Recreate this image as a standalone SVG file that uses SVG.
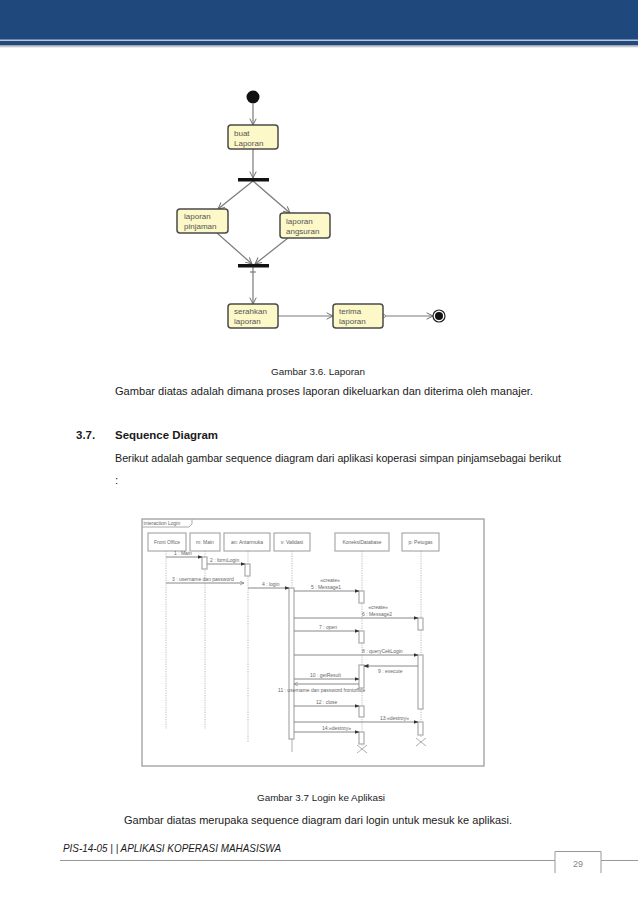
<svg xmlns="http://www.w3.org/2000/svg" width="638" height="903" viewBox="0 0 638 903">
<defs>
<style>
.body{font-family:"Liberation Sans",Arial,sans-serif;font-size:11.5px;fill:#1a1a1a}
.cap{font-family:"Liberation Sans",Arial,sans-serif;font-size:8.5px;fill:#222}
.act rect{fill:#fcf8c8;stroke:#4a4a4a;stroke-width:1.5}
.act text{font-family:"Liberation Sans",Arial,sans-serif;font-size:8px;fill:#555}
.aedge{stroke:#7a7a7a;stroke-width:1.2;fill:none}
.seq text{font-family:"Liberation Sans",Arial,sans-serif;font-size:5px;fill:#666}
.head rect{fill:#fff;stroke:#aaa;stroke-width:1.2}
.life{stroke:#aaa;stroke-width:0.8;stroke-dasharray:1.2 1.2;fill:none}
.actv{fill:#fff;stroke:#999;stroke-width:1}
.msg{stroke:#888;stroke-width:1;fill:none}
</style>
<marker id="open" viewBox="0 0 10 10" refX="9" refY="5" markerWidth="8" markerHeight="8" orient="auto" markerUnits="userSpaceOnUse">
<path d="M1,1 L9,5 L1,9" fill="none" stroke="#6a6a6a" stroke-width="1.2"/>
</marker>
<marker id="fill" viewBox="0 0 10 10" refX="9" refY="5" markerWidth="5" markerHeight="5" orient="auto" markerUnits="userSpaceOnUse">
<path d="M0,1 L10,5 L0,9 Z" fill="#333"/>
</marker>
<marker id="sopen" viewBox="0 0 10 10" refX="9" refY="5" markerWidth="5" markerHeight="5" orient="auto" markerUnits="userSpaceOnUse">
<path d="M1,1 L9,5 L1,9" fill="none" stroke="#777" stroke-width="1.2"/>
</marker>
<linearGradient id="shadow" x1="0" y1="0" x2="0" y2="1">
<stop offset="0" stop-color="#8c96a6"/>
<stop offset="1" stop-color="#ffffff"/>
</linearGradient>
</defs>
<rect width="638" height="903" fill="#fff"/>

<!-- header -->
<g id="header">
<rect x="0" y="0" width="638" height="40" fill="#1f497d"/>
<rect x="0" y="39.5" width="638" height="1.5" fill="#b3c6e3"/>
<rect x="0" y="41" width="638" height="4" fill="#27497a"/>
<rect x="0" y="45" width="638" height="3" fill="url(#shadow)"/>
</g>

<!-- activity diagram -->
<g id="activity-edges">
<line class="aedge" x1="253" y1="104" x2="253" y2="125" marker-end="url(#open)"/>
<line class="aedge" x1="253" y1="149" x2="253" y2="178" marker-end="url(#open)"/>
<line class="aedge" x1="253" y1="181" x2="218" y2="209" marker-end="url(#open)"/>
<line class="aedge" x1="253" y1="181" x2="290" y2="213" marker-end="url(#open)"/>
<line class="aedge" x1="217" y1="233" x2="252" y2="264" marker-end="url(#open)"/>
<line class="aedge" x1="288" y1="238" x2="255" y2="264" marker-end="url(#open)"/>
<line class="aedge" x1="253" y1="267" x2="253" y2="304" marker-end="url(#open)"/>
<line class="aedge" x1="250" y1="272" x2="256" y2="272"/>
<line class="aedge" x1="278" y1="316" x2="333" y2="316" marker-end="url(#open)"/>
<line class="aedge" x1="384" y1="316" x2="433" y2="316" marker-end="url(#open)"/>
<circle cx="384" cy="316" r="1.5" fill="#fff" stroke="#7a7a7a" stroke-width="0.8"/>
</g>
<g id="initial"><circle cx="253" cy="97" r="6.5" fill="#111"/></g>
<g id="buat-laporan" class="act"><rect x="228" y="125" width="50" height="24" rx="3"/><text x="234" y="136">buat</text><text x="234" y="146">Laporan</text></g>
<g id="fork"><rect x="238" y="178" width="31" height="3.5" fill="#111"/></g>
<g id="laporan-pinjaman" class="act"><rect x="177" y="209" width="51" height="24" rx="3"/><text x="184" y="219">laporan</text><text x="184" y="229">pinjaman</text></g>
<g id="laporan-angsuran" class="act"><rect x="280" y="213" width="50" height="25" rx="3"/><text x="286" y="224">laporan</text><text x="286" y="234">angsuran</text></g>
<g id="join"><rect x="238" y="264" width="31" height="3.5" fill="#111"/></g>
<g id="serahkan-laporan" class="act"><rect x="228" y="304" width="50" height="24" rx="3"/><text x="234" y="314">serahkan</text><text x="234" y="324">laporan</text></g>
<g id="terima-laporan" class="act"><rect x="333" y="304" width="50" height="24" rx="3"/><text x="339" y="314">terima</text><text x="339" y="324">laporan</text></g>
<g id="final"><circle cx="439" cy="316" r="6" fill="#fff" stroke="#222" stroke-width="1.2"/><circle cx="439" cy="316" r="4" fill="#111"/></g>

<!-- text block 1 -->
<text class="cap" x="271" y="375" textLength="94" lengthAdjust="spacingAndGlyphs">Gambar 3.6. Laporan</text>
<text class="body" x="115" y="395" textLength="418" lengthAdjust="spacingAndGlyphs">Gambar diatas adalah dimana proses laporan dikeluarkan dan diterima oleh manajer.</text>
<text class="body" x="76" y="439" font-weight="bold" font-size="12">3.7.</text>
<text class="body" x="115" y="439" font-weight="bold" font-size="12" textLength="103" lengthAdjust="spacingAndGlyphs">Sequence Diagram</text>
<text class="body" x="115" y="462" textLength="446" lengthAdjust="spacingAndGlyphs">Berikut adalah gambar sequence diagram dari aplikasi koperasi simpan pinjamsebagai berikut</text>
<text class="body" x="115" y="484">:</text>

<!-- sequence diagram -->
<g class="seq">
<g id="frame">
<rect x="142" y="519" width="342" height="247" fill="#fff" stroke="#aaa" stroke-width="1.5"/>
<path d="M142,527 H189 L192,524 V519" fill="none" stroke="#aaa" stroke-width="1"/>
<text x="143.5" y="525" font-size="4.8" fill="#444">interaction Login</text>
</g>
<g id="front-office" class="head"><rect x="148" y="533" width="38" height="18"/><text x="167" y="543.5" text-anchor="middle" fill="#555">Front Office</text><line class="life" x1="166" y1="551" x2="166" y2="729"/></g>
<g id="m-main" class="head"><rect x="190" y="533" width="30" height="18"/><text x="205" y="543.5" text-anchor="middle" fill="#555">m: Main</text><line class="life" x1="205" y1="551" x2="205" y2="729"/><rect class="actv" x="202" y="557" width="5" height="12"/></g>
<g id="an-antarmuka" class="head"><rect x="224" y="533" width="46" height="18"/><text x="247" y="543.5" text-anchor="middle" fill="#555">an: Antarmuka</text><line class="life" x1="248" y1="551" x2="248" y2="743"/><rect class="actv" x="245" y="564" width="5" height="12"/></g>
<g id="v-validasi" class="head"><rect x="274" y="533" width="36" height="18"/><text x="292" y="543.5" text-anchor="middle" fill="#555">v: Validasi</text><line class="life" x1="292" y1="551" x2="292" y2="588"/><rect class="actv" x="289" y="588" width="5" height="151"/><line x1="292" y1="739" x2="292" y2="752" stroke="#999" stroke-width="0.8"/></g>
<g id="koneksi-database" class="head"><rect x="335" y="533" width="54" height="18"/><text x="362" y="543.5" text-anchor="middle" fill="#555">KoneksiDatabase</text><line class="life" x1="362" y1="551" x2="362" y2="746"/>
<rect class="actv" x="359" y="591" width="5" height="12"/>
<rect class="actv" x="359" y="631" width="5" height="12"/>
<rect class="actv" x="359" y="665" width="5" height="23"/>
<rect class="actv" x="359" y="706" width="5" height="11"/>
<rect class="actv" x="359" y="732" width="5" height="12"/>
<path d="M357,745 L367,753 M367,745 L357,753" stroke="#999" stroke-width="0.8"/></g>
<g id="p-petugas" class="head"><rect x="402" y="533" width="37" height="18"/><text x="420.5" y="543.5" text-anchor="middle" fill="#555">p: Petugas</text><line class="life" x1="421" y1="551" x2="421" y2="737"/>
<rect class="actv" x="418" y="618" width="5" height="12"/>
<rect class="actv" x="418" y="655" width="5" height="54"/>
<rect class="actv" x="418" y="722" width="5" height="13"/>
<path d="M416,738 L426,746 M426,738 L416,746" stroke="#999" stroke-width="0.8"/></g>

<g id="messages">
<line class="msg" x1="166" y1="557" x2="202" y2="557" marker-end="url(#fill)"/>
<text x="174" y="555">1 : Main</text>
<line class="msg" x1="207" y1="564" x2="245" y2="564" marker-end="url(#fill)"/>
<text x="210" y="562">2 : formLogin</text>
<line class="msg" x1="166" y1="583" x2="244" y2="583" marker-end="url(#sopen)"/>
<text x="172" y="581">3 : username dan password</text>
<line class="msg" x1="248" y1="588" x2="289" y2="588" marker-end="url(#fill)"/>
<text x="262" y="586">4 : login</text>
<line class="msg" x1="294" y1="591" x2="359" y2="591" marker-end="url(#fill)"/>
<text x="330" y="582" text-anchor="middle" font-size="4.3">«create»</text>
<text x="311" y="589">5 : Message1</text>
<line class="msg" x1="294" y1="618" x2="418" y2="618" marker-end="url(#fill)"/>
<text x="378" y="609" text-anchor="middle" font-size="4.3">«create»</text>
<text x="362" y="616">6 : Message2</text>
<line class="msg" x1="294" y1="631" x2="359" y2="631" marker-end="url(#fill)"/>
<text x="319" y="629">7 : open</text>
<line class="msg" x1="294" y1="655" x2="418" y2="655" marker-end="url(#fill)"/>
<text x="362" y="653">8 : queryCekLogin</text>
<line class="msg" x1="418" y1="666" x2="364" y2="666" marker-end="url(#fill)"/>
<text x="378" y="673">9 : execute</text>
<line class="msg" x1="294" y1="679" x2="359" y2="679" marker-end="url(#fill)"/>
<text x="310" y="677">10 : getResult</text>
<line class="msg" x1="359" y1="684" x2="294" y2="684" marker-end="url(#sopen)"/>
<text x="278" y="692">11 : username dan password frontoffice</text>
<line class="msg" x1="294" y1="706" x2="359" y2="706" marker-end="url(#fill)"/>
<text x="316" y="704">12 : close</text>
<line class="msg" x1="294" y1="722" x2="418" y2="722" marker-end="url(#fill)"/>
<text x="380" y="720">13:«destroy»</text>
<line class="msg" x1="294" y1="732" x2="359" y2="732" marker-end="url(#fill)"/>
<text x="322" y="730">14:«destroy»</text>
</g>
</g>

<!-- text block 2 -->
<text class="cap" x="257" y="801" textLength="128" lengthAdjust="spacingAndGlyphs">Gambar 3.7 Login ke Aplikasi</text>
<text class="body" x="124" y="824" textLength="388" lengthAdjust="spacingAndGlyphs">Gambar diatas merupaka sequence diagram dari login untuk mesuk ke aplikasi.</text>

<!-- footer -->
<g id="footer">
<text x="63" y="852" font-family="Liberation Sans,Arial,sans-serif" font-size="11" font-style="italic" fill="#1a1a1a" textLength="218" lengthAdjust="spacingAndGlyphs">PIS-14-05 | | APLIKASI KOPERASI MAHASISWA</text>
<path d="M60,860.5 H555 V851.5 H601 V860.5 H638" fill="none" stroke="#999" stroke-width="1"/>
<line x1="555" y1="860.5" x2="555" y2="873" stroke="#999" stroke-width="1"/>
<line x1="601" y1="860.5" x2="601" y2="873" stroke="#999" stroke-width="1"/>
<text x="578" y="867" text-anchor="middle" font-family="Liberation Sans,Arial,sans-serif" font-size="9" fill="#888">29</text>
</g>
</svg>
